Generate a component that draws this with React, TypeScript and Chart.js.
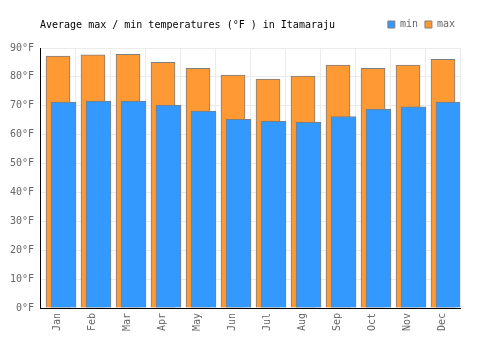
import { useEffect, useRef } from 'react';
import { Chart, registerables } from 'chart.js';

Chart.register(...registerables);

const months = ['Jan', 'Feb', 'Mar', 'Apr', 'May', 'Jun', 'Jul', 'Aug', 'Sep', 'Oct', 'Nov', 'Dec'];
const minTemps = [71.3, 71.6, 71.6, 70.2, 68.2, 65.3, 64.6, 64.3, 66.3, 68.9, 69.6, 71.3];
const maxTemps = [87.2, 87.6, 87.8, 85.0, 83.0, 80.6, 79.2, 80.3, 84.1, 83.0, 84.1, 86.1];
const seriesNames = ['min', 'max'];
const yTickValues = [0, 10, 20, 30, 40, 50, 60, 70, 80, 90];
const unit = '°F';
const titleText = 'Average max / min temperatures (°F ) in Itamaraju';

const FONT = 'DejaVu Sans Mono';
// bar offsets relative to category centre, in category units
const MAX_SHIFT = 0.5 / 35;
const MIN_SHIFT = 6 / 35;

// moves the legend up into the title's row (right side)
const legendInTitleRow = {
  id: 'legendInTitleRow',
  afterLayout(chart: any) {
    const lg = chart.legend;
    const t = chart.titleBlock;
    if (!lg || !t) return;
    const h = 27;
    lg.top = t.top;
    lg.bottom = t.top + h;
    lg.height = h;
    lg.left += 2;
    lg.right += 2;
  },
};

export default function App() {
  const ref = useRef<HTMLCanvasElement>(null);

  useEffect(() => {
    if (!ref.current) return;
    const chart = new Chart(ref.current, {
      type: 'bar',
      data: {
        labels: months,
        datasets: [
          {
            label: seriesNames[0],
            data: minTemps.map((v, i) => ({ x: i + MIN_SHIFT, y: v })) as any,
            xAxisID: 'x2',
            backgroundColor: '#3399ff',
            borderColor: '#7f7f7f',
            borderWidth: 1,
            barThickness: 25,
            grouped: false,
          },
          {
            label: seriesNames[1],
            data: maxTemps.map((v, i) => ({ x: i + MAX_SHIFT, y: v })) as any,
            xAxisID: 'x2',
            backgroundColor: '#ff9933',
            borderColor: '#7f7f7f',
            borderWidth: 1,
            barThickness: 24,
            grouped: false,
          },
        ],
      },
      plugins: [legendInTitleRow],
      options: {
        responsive: false,
        animation: false,
        layout: { padding: { top: 12.5, right: 40, left: 0, bottom: 0 } },
        plugins: {
          tooltip: { enabled: false },
          title: {
            display: true,
            text: titleText,
            align: 'start',
            position: 'top',
            fullSize: false,
            color: '#000',
            font: { family: FONT, size: 10, weight: 'normal' },
            padding: { top: 6.5, bottom: 16 },
          },
          legend: {
            display: true,
            position: 'top',
            align: 'end',
            fullSize: false,
            maxHeight: 1,
            labels: {
              boxWidth: 7,
              boxHeight: 7,
              padding: 7,
              color: '#666',
              font: { family: FONT, size: 10 },
            },
          } as any,
        },
        scales: {
          x: {
            type: 'category',
            offset: true,
            ticks: {
              minRotation: 90,
              maxRotation: 90,
              color: '#666',
              font: { family: FONT, size: 10 },
              padding: 5,
            },
            grid: { color: '#ebebeb', drawTicks: false, offset: true },
            border: { color: '#000', width: 1 },
            afterFit: (s: any) => {
              s.height = 42;
            },
          },
          x2: {
            type: 'linear',
            display: false,
            offset: false,
            min: -0.5,
            max: 11.5,
            grid: { display: false },
          },
          y: {
            min: yTickValues[0],
            max: yTickValues[yTickValues.length - 1],
            afterBuildTicks: (s: any) => {
              s.ticks = yTickValues.map((v) => ({ value: v }));
            },
            ticks: {
              color: '#666',
              font: { family: FONT, size: 10 },
              padding: 6,
              callback: (v: any) => `${v}${unit}`,
            },
            grid: { color: '#ebebeb', drawTicks: false },
            border: { color: '#000', width: 1 },
            afterFit: (s: any) => {
              s.width = 40;
            },
          },
        },
      },
    });
    return () => chart.destroy();
  }, []);

  return (
    <div style={{ position: 'fixed', left: 0, top: 0, width: 500, height: 350, background: '#fff' }}>
      <canvas ref={ref} width={500} height={350} style={{ display: 'block' }} />
    </div>
  );
}
